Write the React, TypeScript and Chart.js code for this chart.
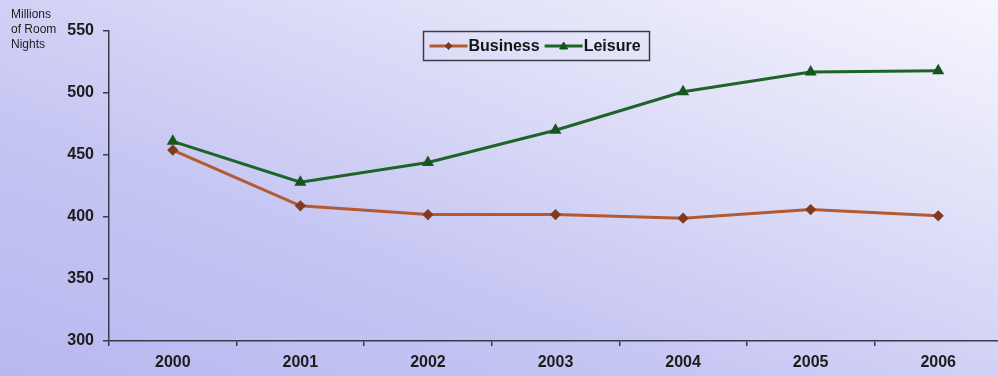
import React, { useEffect, useRef } from "react";
import { Chart, registerables } from "chart.js";

Chart.register(...registerables);

const years = ["2000", "2001", "2002", "2003", "2004", "2005", "2006"];
const business = [454, 409, 402, 402, 399, 406, 401];
const leisure = [461, 428, 444, 470, 501, 517, 518];
const yMin = 300;
const yMax = 550;
const yStep = 50;
const titleLines = ["Millions", "of Room", "Nights"];
const seriesNames = ["Business", "Leisure"];

const FONT = "Arial, 'Liberation Sans', Helvetica, sans-serif";
const AXIS = "#3a3a4a";

function drawMarker(ctx: CanvasRenderingContext2D, style: string, x: number, y: number, r: number, color: string) {
  ctx.save();
  ctx.fillStyle = color;
  ctx.strokeStyle = color;
  ctx.lineWidth = 1;
  ctx.beginPath();
  if (style === "triangle") {
    ctx.moveTo(x, y - r);
    ctx.lineTo(x + r, y + r * 0.75);
    ctx.lineTo(x - r, y + r * 0.75);
  } else {
    ctx.moveTo(x, y - r);
    ctx.lineTo(x + r, y);
    ctx.lineTo(x, y + r);
    ctx.lineTo(x - r, y);
  }
  ctx.closePath();
  ctx.fill();
  ctx.stroke();
  ctx.restore();
}

const decorPlugin = {
  id: "decor",
  afterDraw(chart: any) {
    const ctx: CanvasRenderingContext2D = chart.ctx;
    ctx.save();
    // axis title (top-left)
    ctx.fillStyle = "#222";
    ctx.font = `12px ${FONT}`;
    ctx.textBaseline = "middle";
    ctx.textAlign = "left";
    titleLines.forEach((t, i) => ctx.fillText(t, 11, 15 + i * 15));

    // legend box
    const x0 = 423.5, y0 = 31.5, w = 226, h = 29;
    ctx.strokeStyle = "#3c3c48";
    ctx.lineWidth = 1.5;
    ctx.strokeRect(x0, y0, w, h);
    const cy = y0 + h / 2;
    let x = x0 + 6;
    ctx.font = `bold 16px ${FONT}`;
    chart.data.datasets.forEach((ds: any) => {
      const len = 38;
      ctx.strokeStyle = ds.borderColor;
      ctx.lineWidth = 3;
      ctx.beginPath();
      ctx.moveTo(x, cy);
      ctx.lineTo(x + len, cy);
      ctx.stroke();
      drawMarker(ctx, ds.pointStyle, x + len / 2, cy, ds.pointRadius, ds.pointBackgroundColor);
      x += len + 1;
      ctx.fillStyle = "#151515";
      ctx.fillText(ds.label, x, cy + 1);
      x += ctx.measureText(ds.label).width + 5;
    });
    ctx.restore();
  },
};

export default function App() {
  const ref = useRef<HTMLCanvasElement | null>(null);

  useEffect(() => {
    if (!ref.current) return;
    const chart = new Chart(ref.current, {
      type: "line",
      data: {
        labels: years,
        datasets: [
          {
            label: seriesNames[0],
            data: business,
            borderColor: "#b35a32",
            backgroundColor: "#b35a32",
            borderWidth: 3,
            pointStyle: "rectRot",
            pointRadius: 3.5,
            pointBackgroundColor: "#7f3a22",
            pointBorderColor: "#7f3a22",
            tension: 0,
          },
          {
            label: seriesNames[1],
            data: leisure,
            borderColor: "#1e6428",
            backgroundColor: "#1e6428",
            borderWidth: 3,
            pointStyle: "triangle",
            pointRadius: 4,
            pointBackgroundColor: "#17551f",
            pointBorderColor: "#17551f",
            tension: 0,
          },
        ],
      },
      options: {
        animation: false,
        responsive: true,
        maintainAspectRatio: false,
        layout: { padding: { top: 31, left: 0, right: 0, bottom: 0 } },
        plugins: {
          legend: { display: false },
          tooltip: { enabled: false },
        },
        scales: {
          x: {
            type: "category",
            offset: true,
            afterFit: (s: any) => {
              s.height = 35;
            },
            grid: {
              offset: true,
              drawOnChartArea: false,
              drawTicks: true,
              tickLength: 5,
              color: AXIS,
              lineWidth: 1.5,
            },
            border: { color: AXIS, width: 1.5 },
            ticks: {
              color: "#1c1c1c",
              padding: 7,
              font: { family: FONT, size: 16, weight: "bold" },
              maxRotation: 0,
            },
          },
          y: {
            min: yMin,
            max: yMax,
            afterFit: (s: any) => {
              s.width = 109;
            },
            grid: {
              drawOnChartArea: false,
              drawTicks: true,
              tickLength: 6,
              color: AXIS,
              lineWidth: 1.5,
            },
            border: { color: AXIS, width: 1.5 },
            ticks: {
              stepSize: yStep,
              color: "#1c1c1c",
              padding: 9,
              font: { family: FONT, size: 16, weight: "bold" },
            },
          },
        },
      },
      plugins: [decorPlugin],
    });
    return () => chart.destroy();
  }, []);

  return (
    <div
      style={{
        position: "fixed",
        left: 0,
        top: 0,
        width: 998,
        height: 376,
        overflow: "hidden",
        background:
          "linear-gradient(to top right, #b8b8f0 0%, #c6c6f3 35%, #e0e0f9 70%, #f6f6fd 100%)",
      }}
    >
      <div style={{ position: "absolute", left: 0, top: 0, width: 1009, height: 376 }}>
        <canvas ref={ref} />
      </div>
    </div>
  );
}
